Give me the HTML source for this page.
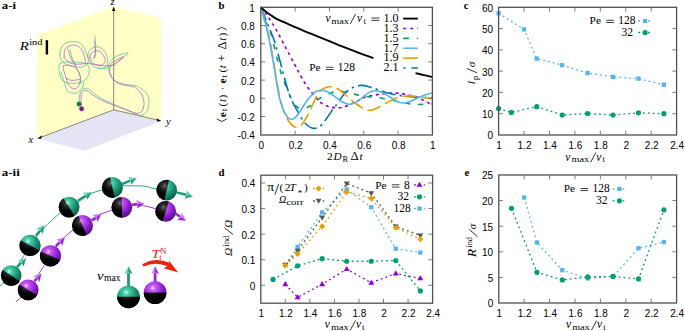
<!DOCTYPE html>
<html><head><meta charset="utf-8"><style>html,body{margin:0;padding:0;background:#fff;}svg{display:block;}</style></head><body>
<svg width="685" height="331" viewBox="0 0 685 331">
<rect width="685" height="331" fill="#fff"/>
<g fill="none" stroke-linejoin="round">
<path d="M260.8,7.3 C261.5,8.18 263.6,10.72 265,12.6 C266.4,14.48 267.35,15.78 269.2,18.6 C271.05,21.42 273.43,24.82 276.1,29.5 C278.77,34.18 282.17,40.97 285.2,46.7 C288.23,52.43 291.77,59.13 294.3,63.9 C296.83,68.67 298.45,71.78 300.4,75.3 C302.35,78.82 304.03,82.03 306,85 C307.97,87.97 310.37,90.8 312.2,93.1 C314.03,95.4 315.48,97.15 317,98.8 C318.52,100.45 319.63,101.8 321.3,103 C322.97,104.2 325.38,105.3 327,106 C328.62,106.7 329.52,106.92 331,107.2 C332.48,107.48 334.07,107.65 335.9,107.7 C337.73,107.75 339.63,108.03 342,107.5 C344.37,106.97 347.43,105.67 350.1,104.5 C352.77,103.33 355.35,101.75 358,100.5 C360.65,99.25 362.78,97.98 366,97 C369.22,96.02 373.97,95.18 377.3,94.6 C380.63,94.02 382.98,93.75 386,93.5 C389.02,93.25 392.57,93.03 395.4,93.1 C398.23,93.17 400.48,93.52 403,93.9 C405.52,94.28 408.17,94.8 410.5,95.4 C412.83,96 414.92,96.73 417,97.5 C419.08,98.27 421.05,99.08 423,100 C424.95,100.92 427.13,102.2 428.7,103 C430.27,103.8 431.78,104.5 432.4,104.8" stroke="#9400D3" stroke-width="1.6" stroke-dasharray="3 3.6"/>
<path d="M260.8,7.3 C261.5,9.42 263.35,15.77 265,20 C266.65,24.23 269.13,28.15 270.7,32.7 C272.27,37.25 273.27,42.75 274.4,47.3 C275.53,51.85 276.45,55.92 277.5,60 C278.55,64.08 279.7,68.47 280.7,71.8 C281.7,75.13 282.45,77.13 283.5,80 C284.55,82.87 285.75,86 287,89 C288.25,92 289.67,95.33 291,98 C292.33,100.67 293.67,103.28 295,105 C296.33,106.72 297.67,107.67 299,108.3 C300.33,108.93 301.4,109.05 303,108.8 C304.6,108.55 306.93,107.67 308.6,106.8 C310.27,105.93 311.63,104.67 313,103.6 C314.37,102.53 315.3,101.5 316.8,100.4 C318.3,99.3 320.03,98.05 322,97 C323.97,95.95 326.6,94.93 328.6,94.1 C330.6,93.27 332.18,92.47 334,92 C335.82,91.53 337.67,91.3 339.5,91.3 C341.33,91.3 342.92,91.62 345,92 C347.08,92.38 349.5,93.03 352,93.6 C354.5,94.17 357.33,94.9 360,95.4 C362.67,95.9 364.87,96.22 368,96.6 C371.13,96.98 375.13,97.18 378.8,97.7 C382.47,98.22 386.47,98.98 390,99.7 C393.53,100.42 396.67,101.3 400,102 C403.33,102.7 407,103.48 410,103.9 C413,104.32 415.5,104.43 418,104.5 C420.5,104.57 422.6,104.4 425,104.3 C427.4,104.2 431.17,103.97 432.4,103.9" stroke="#009E73" stroke-width="1.6" stroke-dasharray="5.2 7.8"/>
<path d="M260.8,7.3 C261.67,9.42 264.38,16.05 266,20 C267.62,23.95 269.1,27.5 270.5,31 C271.9,34.5 273.23,37.5 274.4,41 C275.57,44.5 276.45,48.23 277.5,52 C278.55,55.77 279.62,59.6 280.7,63.6 C281.78,67.6 282.95,72.1 284,76 C285.05,79.9 285.92,83.42 287,87 C288.08,90.58 289.25,94.33 290.5,97.5 C291.75,100.67 293.15,103.42 294.5,106 C295.85,108.58 297.18,110.58 298.6,113 C300.02,115.42 301.52,118.42 303,120.5 C304.48,122.58 305.92,124.22 307.5,125.5 C309.08,126.78 310.83,127.82 312.5,128.2 C314.17,128.58 315.92,128.42 317.5,127.8 C319.08,127.18 320.42,126.13 322,124.5 C323.58,122.87 325.33,120.33 327,118 C328.67,115.67 330.22,112.97 332,110.5 C333.78,108.03 335.87,105.7 337.7,103.2 C339.53,100.7 341.28,97.62 343,95.5 C344.72,93.38 346.33,91.83 348,90.5 C349.67,89.17 351.33,88.28 353,87.5 C354.67,86.72 356.47,86.15 358,85.8 C359.53,85.45 360.53,85.28 362.2,85.4 C363.87,85.52 366.2,86.07 368,86.5 C369.8,86.93 371.2,87.42 373,88 C374.8,88.58 376.63,89.25 378.8,90 C380.97,90.75 383.63,91.8 386,92.5 C388.37,93.2 390.83,93.73 393,94.2 C395.17,94.67 397.08,94.98 399,95.3 C400.92,95.62 402.33,95.85 404.5,96.1 C406.67,96.35 409.42,96.58 412,96.8 C414.58,97.02 416.6,97.25 420,97.4 C423.4,97.55 430.33,97.65 432.4,97.7" stroke="#0072B2" stroke-width="1.6" stroke-dasharray="14 4.2 2.4 4.2"/>
<path d="M260.8,7.3 C261.33,9.25 262.65,14.3 264,19 C265.35,23.7 267.4,29 268.9,35.5 C270.4,42 271.68,50.42 273,58 C274.32,65.58 275.63,74.33 276.8,81 C277.97,87.67 278.8,92.83 280,98 C281.2,103.17 282.5,108.08 284,112 C285.5,115.92 287.5,119.17 289,121.5 C290.5,123.83 291.7,125.05 293,126 C294.3,126.95 295.47,127.28 296.8,127.2 C298.13,127.12 299.63,126.7 301,125.5 C302.37,124.3 303.73,121.98 305,120 C306.27,118.02 307.27,116.27 308.6,113.6 C309.93,110.93 311.48,107.18 313,104 C314.52,100.82 316.2,96.92 317.7,94.5 C319.2,92.08 320.03,90.78 322,89.5 C323.97,88.22 327,86.97 329.5,86.8 C332,86.63 335.08,87.77 337,88.5 C338.92,89.23 339.2,89.8 341,91.2 C342.8,92.6 345.47,94.93 347.8,96.9 C350.13,98.87 352.47,101.12 355,103 C357.53,104.88 360.55,106.97 363,108.2 C365.45,109.43 367.53,110.35 369.7,110.4 C371.87,110.45 373.78,109.43 376,108.5 C378.22,107.57 380.77,105.98 383,104.8 C385.23,103.62 387.07,102.58 389.4,101.4 C391.73,100.22 394.57,98.57 397,97.7 C399.43,96.83 401.83,96.5 404,96.2 C406.17,95.9 408,95.88 410,95.9 C412,95.92 413.67,96.03 416,96.3 C418.33,96.57 421.27,97.12 424,97.5 C426.73,97.88 431,98.42 432.4,98.6" stroke="#E69F00" stroke-width="1.6" stroke-dasharray="14 5"/>
<path d="M260.8,7.3 C261.25,8.75 262.45,12.22 263.5,16 C264.55,19.78 265.77,24 267.1,30 C268.43,36 270.03,44 271.5,52 C272.97,60 274.65,70.67 275.9,78 C277.15,85.33 277.82,90.83 279,96 C280.18,101.17 281.67,105.58 283,109 C284.33,112.42 285.7,114.8 287,116.5 C288.3,118.2 289.47,118.98 290.8,119.2 C292.13,119.42 293.63,118.83 295,117.8 C296.37,116.77 297.65,114.85 299,113 C300.35,111.15 301.68,108.87 303.1,106.7 C304.52,104.53 305.98,102.02 307.5,100 C309.02,97.98 310.7,96.07 312.2,94.6 C313.7,93.13 314.98,91.93 316.5,91.2 C318.02,90.47 319.55,90.13 321.3,90.2 C323.05,90.27 324.88,90.67 327,91.6 C329.12,92.53 331.67,94.18 334,95.8 C336.33,97.42 338.57,99.9 341,101.3 C343.43,102.7 346.27,103.98 348.6,104.2 C350.93,104.42 352.77,103.67 355,102.6 C357.23,101.53 359.75,99.47 362,97.8 C364.25,96.13 366.33,93.78 368.5,92.6 C370.67,91.42 372.75,90.75 375,90.7 C377.25,90.65 379.5,91.25 382,92.3 C384.5,93.35 387.5,95.45 390,97 C392.5,98.55 394.83,100.6 397,101.6 C399.17,102.6 400.83,103.03 403,103 C405.17,102.97 407.5,102.27 410,101.4 C412.5,100.53 415.5,98.87 418,97.8 C420.5,96.73 422.6,95.83 425,95 C427.4,94.17 431.17,93.17 432.4,92.8" stroke="#56B4E9" stroke-width="1.6"/>
<path d="M260.8,7.3 C261.67,8.05 264.13,10.37 266,11.8 C267.87,13.23 270.32,14.77 272,15.9 C273.68,17.03 274.43,17.7 276.1,18.6 C277.77,19.5 279.68,20.25 282,21.3 C284.32,22.35 287.95,23.98 290,24.9 C292.05,25.82 292.63,26.08 294.3,26.8 C295.97,27.52 297.38,28.1 300,29.2 C302.62,30.3 307,32.15 310,33.4 C313,34.65 314.67,35.37 318,36.7 C321.33,38.03 325.88,39.75 330,41.4 C334.12,43.05 338.53,44.95 342.7,46.6 C346.87,48.25 351.28,49.87 355,51.3 C358.72,52.73 361.93,54.07 365,55.2 C368.07,56.33 372,57.62 373.4,58.1" stroke="#000" stroke-width="1.9"/>
<path d="M415.6,73.1 C417,73.45 421.2,74.53 424,75.2 C426.8,75.87 431,76.78 432.4,77.1" stroke="#000" stroke-width="1.9"/>
</g>
<rect x="260.8" y="7.3" width="171.6" height="127.7" fill="none" stroke="#505050" stroke-width="1.3"/>
<line x1="295.12" y1="135" x2="295.12" y2="130.7" stroke="#666" stroke-width="0.85"/>
<line x1="295.12" y1="7.3" x2="295.12" y2="11.6" stroke="#666" stroke-width="0.85"/>
<line x1="329.44" y1="135" x2="329.44" y2="130.7" stroke="#666" stroke-width="0.85"/>
<line x1="329.44" y1="7.3" x2="329.44" y2="11.6" stroke="#666" stroke-width="0.85"/>
<line x1="363.76" y1="135" x2="363.76" y2="130.7" stroke="#666" stroke-width="0.85"/>
<line x1="363.76" y1="7.3" x2="363.76" y2="11.6" stroke="#666" stroke-width="0.85"/>
<line x1="398.08" y1="135" x2="398.08" y2="130.7" stroke="#666" stroke-width="0.85"/>
<line x1="398.08" y1="7.3" x2="398.08" y2="11.6" stroke="#666" stroke-width="0.85"/>
<line x1="260.8" y1="25.5" x2="265.1" y2="25.5" stroke="#666" stroke-width="0.85"/>
<line x1="432.4" y1="25.5" x2="428.1" y2="25.5" stroke="#666" stroke-width="0.85"/>
<line x1="260.8" y1="43.7" x2="265.1" y2="43.7" stroke="#666" stroke-width="0.85"/>
<line x1="432.4" y1="43.7" x2="428.1" y2="43.7" stroke="#666" stroke-width="0.85"/>
<line x1="260.8" y1="61.9" x2="265.1" y2="61.9" stroke="#666" stroke-width="0.85"/>
<line x1="432.4" y1="61.9" x2="428.1" y2="61.9" stroke="#666" stroke-width="0.85"/>
<line x1="260.8" y1="80.1" x2="265.1" y2="80.1" stroke="#666" stroke-width="0.85"/>
<line x1="432.4" y1="80.1" x2="428.1" y2="80.1" stroke="#666" stroke-width="0.85"/>
<line x1="260.8" y1="98.3" x2="265.1" y2="98.3" stroke="#666" stroke-width="0.85"/>
<line x1="432.4" y1="98.3" x2="428.1" y2="98.3" stroke="#666" stroke-width="0.85"/>
<line x1="260.8" y1="116.5" x2="265.1" y2="116.5" stroke="#666" stroke-width="0.85"/>
<line x1="432.4" y1="116.5" x2="428.1" y2="116.5" stroke="#666" stroke-width="0.85"/>
<text x="254.8" y="11.7" font-family='"Liberation Sans", sans-serif' font-size="10" text-anchor="end">1</text>
<text x="254.8" y="29.9" font-family='"Liberation Sans", sans-serif' font-size="10" text-anchor="end">0.8</text>
<text x="254.8" y="48.1" font-family='"Liberation Sans", sans-serif' font-size="10" text-anchor="end">0.6</text>
<text x="254.8" y="66.3" font-family='"Liberation Sans", sans-serif' font-size="10" text-anchor="end">0.4</text>
<text x="254.8" y="84.5" font-family='"Liberation Sans", sans-serif' font-size="10" text-anchor="end">0.2</text>
<text x="254.8" y="102.7" font-family='"Liberation Sans", sans-serif' font-size="10" text-anchor="end">0</text>
<text x="254.8" y="120.9" font-family='"Liberation Sans", sans-serif' font-size="10" text-anchor="end">-0.2</text>
<text x="254.8" y="139.1" font-family='"Liberation Sans", sans-serif' font-size="10" text-anchor="end">-0.4</text>
<text x="261.3" y="149.2" font-family='"Liberation Sans", sans-serif' font-size="10" text-anchor="middle">0</text>
<text x="295.62" y="149.2" font-family='"Liberation Sans", sans-serif' font-size="10" text-anchor="middle">0.2</text>
<text x="329.94" y="149.2" font-family='"Liberation Sans", sans-serif' font-size="10" text-anchor="middle">0.4</text>
<text x="364.26" y="149.2" font-family='"Liberation Sans", sans-serif' font-size="10" text-anchor="middle">0.6</text>
<text x="398.58" y="149.2" font-family='"Liberation Sans", sans-serif' font-size="10" text-anchor="middle">0.8</text>
<text x="432.9" y="149.2" font-family='"Liberation Sans", sans-serif' font-size="10" text-anchor="middle">1</text>
<text x="325.5" y="21.9" font-family='"Liberation Serif", serif' font-size="11.5" font-style="italic">v</text>
<text x="331.2" y="23.5" font-family='"Liberation Serif", serif' font-size="8.8" textLength="17.6" lengthAdjust="spacingAndGlyphs">max</text>
<line x1="355.6" y1="14" x2="350.3" y2="23.8" stroke="#000" stroke-width="0.8"/>
<text x="356.9" y="21.9" font-family='"Liberation Serif", serif' font-size="11.5" font-style="italic">v</text>
<text x="363.4" y="23.5" font-family='"Liberation Serif", serif' font-size="8.6">t</text>
<rect x="371.4" y="17.65" width="8" height="0.75" fill="#000"/>
<rect x="371.4" y="19.9" width="8" height="0.75" fill="#000"/>
<text x="383.4" y="21.9" font-family='"Liberation Serif", serif' font-size="11.5" textLength="15.2" lengthAdjust="spacingAndGlyphs">1.0</text>
<text x="383.4" y="31.78" font-family='"Liberation Serif", serif' font-size="11.5" textLength="15.2" lengthAdjust="spacingAndGlyphs">1.3</text>
<text x="383.4" y="41.66" font-family='"Liberation Serif", serif' font-size="11.5" textLength="15.2" lengthAdjust="spacingAndGlyphs">1.5</text>
<text x="383.4" y="51.54" font-family='"Liberation Serif", serif' font-size="11.5" textLength="15.2" lengthAdjust="spacingAndGlyphs">1.7</text>
<text x="383.4" y="61.42" font-family='"Liberation Serif", serif' font-size="11.5" textLength="15.2" lengthAdjust="spacingAndGlyphs">1.9</text>
<text x="383.4" y="71.3" font-family='"Liberation Serif", serif' font-size="11.5" textLength="15.2" lengthAdjust="spacingAndGlyphs">2.1</text>
<line x1="403.2" y1="18.6" x2="417.8" y2="18.6" stroke="#000" stroke-width="1.9"/>
<line x1="403.2" y1="28.48" x2="417.8" y2="28.48" stroke="#9400D3" stroke-width="1.6" stroke-dasharray="3 4"/>
<line x1="403.2" y1="38.36" x2="417.8" y2="38.36" stroke="#009E73" stroke-width="1.6" stroke-dasharray="5.6 7.9"/>
<line x1="403.2" y1="48.24" x2="417.8" y2="48.24" stroke="#56B4E9" stroke-width="1.6"/>
<line x1="403.2" y1="58.12" x2="417.8" y2="58.12" stroke="#E69F00" stroke-width="1.6"/>
<line x1="403.2" y1="68" x2="417.8" y2="68" stroke="#0072B2" stroke-width="1.6" stroke-dasharray="2.4 5.8 14"/>
<text x="309.2" y="71.1" font-family='"Liberation Serif", serif' font-size="11.3">Pe</text>
<rect x="325.8" y="66.85" width="7.6" height="0.75" fill="#000"/>
<rect x="325.8" y="69.1" width="7.6" height="0.75" fill="#000"/>
<text x="337.8" y="71.1" font-family='"Liberation Serif", serif' font-size="11.5">128</text>
<text x="326.9" y="159.9" font-family='"Liberation Serif", serif' font-size="11.3">2</text>
<text x="333.4" y="159.9" font-family='"Liberation Serif", serif' font-size="11.3" font-style="italic">D</text>
<text x="342.6" y="161.5" font-family='"Liberation Serif", serif' font-size="8.3">R</text>
<text x="350.5" y="159.9" font-family='"Liberation Serif", serif' font-size="12.4" textLength="8.2" lengthAdjust="spacingAndGlyphs">Δ</text>
<text x="359.6" y="159.9" font-family='"Liberation Serif", serif' font-size="11.3" font-style="italic">t</text>
<g transform="translate(225.6,124) rotate(-90)">
<text x="6.7" y="0" font-family='"Liberation Serif", serif' font-size="11.3" font-weight="bold">e</text>
<text x="12.9" y="1.6" font-family='"Liberation Serif", serif' font-size="8.3">t</text>
<text x="17.6" y="0" font-family='"Liberation Serif", serif' font-size="11.3">(</text>
<text x="21.9" y="0" font-family='"Liberation Serif", serif' font-size="11.3" font-style="italic">t</text>
<text x="25.6" y="0" font-family='"Liberation Serif", serif' font-size="11.3">)</text>
<text x="33.5" y="0" font-family='"Liberation Serif", serif' font-size="11.3">·</text>
<text x="40.4" y="0" font-family='"Liberation Serif", serif' font-size="11.3" font-weight="bold">e</text>
<text x="46.4" y="1.6" font-family='"Liberation Serif", serif' font-size="8.3">t</text>
<text x="51.4" y="0" font-family='"Liberation Serif", serif' font-size="11.3">(</text>
<text x="55.7" y="0" font-family='"Liberation Serif", serif' font-size="11.3" font-style="italic">t</text>
<text x="62.6" y="0" font-family='"Liberation Serif", serif' font-size="12">+</text>
<text x="74.4" y="0" font-family='"Liberation Serif", serif' font-size="12.4" textLength="8.0" lengthAdjust="spacingAndGlyphs">Δ</text>
<text x="83.2" y="0" font-family='"Liberation Serif", serif' font-size="11.3" font-style="italic">t</text>
<text x="87.4" y="0" font-family='"Liberation Serif", serif' font-size="11.3">)</text>
</g>
<path d="M216.8,119.0 L221.8,121.5 L226.8,119.0" fill="none" stroke="#000" stroke-width="0.8"/>
<path d="M216.8,29.8 L221.8,27.3 L226.8,29.8" fill="none" stroke="#000" stroke-width="0.8"/>
<path d="M498.6,13.26 L524.03,29.43 L536.74,58.59 L562.17,65.19 L587.6,73.07 L613.03,76.9 L638.46,78.6 L663.89,84.77" fill="none" stroke="#56B4E9" stroke-width="1.3" stroke-dasharray="1.9 3"/>
<path d="M498.6,108.61 L511.31,112.44 L536.74,106.69 L562.17,114.99 L587.6,113.5 L613.03,114.99 L638.46,112.87 L663.89,113.72" fill="none" stroke="#009E73" stroke-width="1.3" stroke-dasharray="1.9 3"/>
<rect x="496.45" y="11.11" width="4.3" height="4.3" fill="#56B4E9"/>
<rect x="521.88" y="27.28" width="4.3" height="4.3" fill="#56B4E9"/>
<rect x="534.59" y="56.44" width="4.3" height="4.3" fill="#56B4E9"/>
<rect x="560.02" y="63.04" width="4.3" height="4.3" fill="#56B4E9"/>
<rect x="585.45" y="70.92" width="4.3" height="4.3" fill="#56B4E9"/>
<rect x="610.88" y="74.75" width="4.3" height="4.3" fill="#56B4E9"/>
<rect x="636.31" y="76.45" width="4.3" height="4.3" fill="#56B4E9"/>
<rect x="661.74" y="82.62" width="4.3" height="4.3" fill="#56B4E9"/>
<circle cx="498.6" cy="108.61" r="2.6" fill="#009E73"/>
<circle cx="511.31" cy="112.44" r="2.6" fill="#009E73"/>
<circle cx="536.74" cy="106.69" r="2.6" fill="#009E73"/>
<circle cx="562.17" cy="114.99" r="2.6" fill="#009E73"/>
<circle cx="587.6" cy="113.5" r="2.6" fill="#009E73"/>
<circle cx="613.03" cy="114.99" r="2.6" fill="#009E73"/>
<circle cx="638.46" cy="112.87" r="2.6" fill="#009E73"/>
<circle cx="663.89" cy="113.72" r="2.6" fill="#009E73"/>
<rect x="498.6" y="7.3" width="178" height="127.7" fill="none" stroke="#505050" stroke-width="1.3"/>
<line x1="524.03" y1="135" x2="524.03" y2="130.7" stroke="#666" stroke-width="0.85"/>
<line x1="524.03" y1="7.3" x2="524.03" y2="11.6" stroke="#666" stroke-width="0.85"/>
<line x1="549.46" y1="135" x2="549.46" y2="130.7" stroke="#666" stroke-width="0.85"/>
<line x1="549.46" y1="7.3" x2="549.46" y2="11.6" stroke="#666" stroke-width="0.85"/>
<line x1="574.89" y1="135" x2="574.89" y2="130.7" stroke="#666" stroke-width="0.85"/>
<line x1="574.89" y1="7.3" x2="574.89" y2="11.6" stroke="#666" stroke-width="0.85"/>
<line x1="600.31" y1="135" x2="600.31" y2="130.7" stroke="#666" stroke-width="0.85"/>
<line x1="600.31" y1="7.3" x2="600.31" y2="11.6" stroke="#666" stroke-width="0.85"/>
<line x1="625.74" y1="135" x2="625.74" y2="130.7" stroke="#666" stroke-width="0.85"/>
<line x1="625.74" y1="7.3" x2="625.74" y2="11.6" stroke="#666" stroke-width="0.85"/>
<line x1="651.17" y1="135" x2="651.17" y2="130.7" stroke="#666" stroke-width="0.85"/>
<line x1="651.17" y1="7.3" x2="651.17" y2="11.6" stroke="#666" stroke-width="0.85"/>
<line x1="498.6" y1="113.72" x2="502.9" y2="113.72" stroke="#666" stroke-width="0.85"/>
<line x1="676.6" y1="113.72" x2="672.3" y2="113.72" stroke="#666" stroke-width="0.85"/>
<line x1="498.6" y1="92.43" x2="502.9" y2="92.43" stroke="#666" stroke-width="0.85"/>
<line x1="676.6" y1="92.43" x2="672.3" y2="92.43" stroke="#666" stroke-width="0.85"/>
<line x1="498.6" y1="71.15" x2="502.9" y2="71.15" stroke="#666" stroke-width="0.85"/>
<line x1="676.6" y1="71.15" x2="672.3" y2="71.15" stroke="#666" stroke-width="0.85"/>
<line x1="498.6" y1="49.87" x2="502.9" y2="49.87" stroke="#666" stroke-width="0.85"/>
<line x1="676.6" y1="49.87" x2="672.3" y2="49.87" stroke="#666" stroke-width="0.85"/>
<line x1="498.6" y1="28.58" x2="502.9" y2="28.58" stroke="#666" stroke-width="0.85"/>
<line x1="676.6" y1="28.58" x2="672.3" y2="28.58" stroke="#666" stroke-width="0.85"/>
<text x="493" y="139.4" font-family='"Liberation Sans", sans-serif' font-size="10" text-anchor="end">0</text>
<text x="493" y="118.12" font-family='"Liberation Sans", sans-serif' font-size="10" text-anchor="end">10</text>
<text x="493" y="96.83" font-family='"Liberation Sans", sans-serif' font-size="10" text-anchor="end">20</text>
<text x="493" y="75.55" font-family='"Liberation Sans", sans-serif' font-size="10" text-anchor="end">30</text>
<text x="493" y="54.27" font-family='"Liberation Sans", sans-serif' font-size="10" text-anchor="end">40</text>
<text x="493" y="32.98" font-family='"Liberation Sans", sans-serif' font-size="10" text-anchor="end">50</text>
<text x="493" y="11.7" font-family='"Liberation Sans", sans-serif' font-size="10" text-anchor="end">60</text>
<text x="499.1" y="149.2" font-family='"Liberation Sans", sans-serif' font-size="10" text-anchor="middle">1</text>
<text x="524.53" y="149.2" font-family='"Liberation Sans", sans-serif' font-size="10" text-anchor="middle">1.2</text>
<text x="549.96" y="149.2" font-family='"Liberation Sans", sans-serif' font-size="10" text-anchor="middle">1.4</text>
<text x="575.39" y="149.2" font-family='"Liberation Sans", sans-serif' font-size="10" text-anchor="middle">1.6</text>
<text x="600.81" y="149.2" font-family='"Liberation Sans", sans-serif' font-size="10" text-anchor="middle">1.8</text>
<text x="626.24" y="149.2" font-family='"Liberation Sans", sans-serif' font-size="10" text-anchor="middle">2</text>
<text x="651.67" y="149.2" font-family='"Liberation Sans", sans-serif' font-size="10" text-anchor="middle">2.2</text>
<text x="677.1" y="149.2" font-family='"Liberation Sans", sans-serif' font-size="10" text-anchor="middle">2.4</text>
<text x="589.6" y="24.1" font-family='"Liberation Serif", serif' font-size="11.3">Pe</text>
<rect x="606.2" y="19.85" width="7.6" height="0.75" fill="#000"/>
<rect x="606.2" y="22.1" width="7.6" height="0.75" fill="#000"/>
<text x="618.2" y="24.1" font-family='"Liberation Serif", serif' font-size="11.5">128</text>
<text x="621.6" y="36" font-family='"Liberation Serif", serif' font-size="11.5">32</text>
<line x1="638.2" y1="21" x2="651" y2="21" stroke="#56B4E9" stroke-width="1.3" stroke-dasharray="1.9 3"/>
<rect x="642.95" y="18.85" width="4.3" height="4.3" fill="#56B4E9"/>
<line x1="638.2" y1="32.5" x2="651" y2="32.5" stroke="#009E73" stroke-width="1.3" stroke-dasharray="1.9 3"/>
<circle cx="645.1" cy="32.5" r="2.6" fill="#009E73"/>
<text x="565.2" y="160.5" font-family='"Liberation Serif", serif' font-size="11.5" font-style="italic">v</text>
<text x="571.5" y="162.1" font-family='"Liberation Serif", serif' font-size="8.8" textLength="17.6" lengthAdjust="spacingAndGlyphs">max</text>
<line x1="595.9" y1="152.6" x2="590.6" y2="162.4" stroke="#000" stroke-width="0.8"/>
<text x="596.3" y="160.5" font-family='"Liberation Serif", serif' font-size="11.5" font-style="italic">v</text>
<text x="602.5" y="162.1" font-family='"Liberation Serif", serif' font-size="8.6">t</text>
<g transform="translate(475.2,84.5) rotate(-90)">
<text x="0.3" y="0" font-family='"Liberation Serif", serif' font-size="11.3" font-style="italic">l</text>
<text x="4.6" y="2.4" font-family='"Liberation Serif", serif' font-size="8.3">p</text>
</g>
<line x1="466.9" y1="68.5" x2="477" y2="72.8" stroke="#000" stroke-width="0.8"/>
<g transform="translate(475.2,84.5) rotate(-90)">
<text x="17.3" y="0" font-family='"Liberation Serif", serif' font-size="11.3" font-style="italic">σ</text>
</g>
<path d="M285.34,284.28 L297.61,297.32 L322.16,284.28 L346.7,269.18 L371.24,282.74 L395.79,273.53 L420.33,278.39" fill="none" stroke="#9400D3" stroke-width="1.3" stroke-dasharray="1.9 3"/>
<path d="M273.07,279.42 L297.61,265.86 L322.16,258.7 L346.7,261.25 L371.24,261.25 L395.79,260.49 L420.33,290.93" fill="none" stroke="#009E73" stroke-width="1.3" stroke-dasharray="1.9 3"/>
<path d="M285.34,264.84 L297.61,246.93 L322.16,212.4 L346.7,189.38 L371.24,207.28 L395.79,248.72 L420.33,252.56" fill="none" stroke="#56B4E9" stroke-width="1.3" stroke-dasharray="1.9 3"/>
<path d="M285.34,264.58 L297.61,250.77 L322.16,217.51 L346.7,183.49 L371.24,193.21 L395.79,226.47 L420.33,235.42" fill="none" stroke="#555555" stroke-width="1.3" stroke-dasharray="1.9 3"/>
<path d="M285.34,265.6 L297.61,253.84 L322.16,226.47 L346.7,191.93 L371.24,198.33 L395.79,227.75 L420.33,239.26" fill="none" stroke="#E69F00" stroke-width="1.3" stroke-dasharray="1.9 3"/>
<path d="M285.34,281.11 L288.34,286.21 L282.34,286.21Z" fill="#9400D3"/>
<path d="M297.61,294.16 L300.61,299.26 L294.61,299.26Z" fill="#9400D3"/>
<path d="M322.16,281.11 L325.16,286.21 L319.16,286.21Z" fill="#9400D3"/>
<path d="M346.7,266.02 L349.7,271.12 L343.7,271.12Z" fill="#9400D3"/>
<path d="M371.24,279.58 L374.24,284.68 L368.24,284.68Z" fill="#9400D3"/>
<path d="M395.79,270.37 L398.79,275.47 L392.79,275.47Z" fill="#9400D3"/>
<path d="M420.33,275.23 L423.33,280.33 L417.33,280.33Z" fill="#9400D3"/>
<circle cx="273.07" cy="279.42" r="2.6" fill="#009E73"/>
<circle cx="297.61" cy="265.86" r="2.6" fill="#009E73"/>
<circle cx="322.16" cy="258.7" r="2.6" fill="#009E73"/>
<circle cx="346.7" cy="261.25" r="2.6" fill="#009E73"/>
<circle cx="371.24" cy="261.25" r="2.6" fill="#009E73"/>
<circle cx="395.79" cy="260.49" r="2.6" fill="#009E73"/>
<circle cx="420.33" cy="290.93" r="2.6" fill="#009E73"/>
<rect x="283.19" y="262.69" width="4.3" height="4.3" fill="#56B4E9"/>
<rect x="295.46" y="244.78" width="4.3" height="4.3" fill="#56B4E9"/>
<rect x="320.01" y="210.25" width="4.3" height="4.3" fill="#56B4E9"/>
<rect x="344.55" y="187.22" width="4.3" height="4.3" fill="#56B4E9"/>
<rect x="369.09" y="205.13" width="4.3" height="4.3" fill="#56B4E9"/>
<rect x="393.64" y="246.57" width="4.3" height="4.3" fill="#56B4E9"/>
<rect x="418.18" y="250.41" width="4.3" height="4.3" fill="#56B4E9"/>
<path d="M285.34,267.74 L288.34,262.64 L282.34,262.64Z" fill="#555555"/>
<path d="M297.61,253.93 L300.61,248.83 L294.61,248.83Z" fill="#555555"/>
<path d="M322.16,220.68 L325.16,215.58 L319.16,215.58Z" fill="#555555"/>
<path d="M346.7,186.65 L349.7,181.55 L343.7,181.55Z" fill="#555555"/>
<path d="M371.24,196.37 L374.24,191.27 L368.24,191.27Z" fill="#555555"/>
<path d="M395.79,229.63 L398.79,224.53 L392.79,224.53Z" fill="#555555"/>
<path d="M420.33,238.58 L423.33,233.48 L417.33,233.48Z" fill="#555555"/>
<path d="M285.34,262.5 L288.44,265.6 L285.34,268.7 L282.24,265.6Z" fill="#E69F00"/>
<path d="M297.61,250.74 L300.71,253.84 L297.61,256.94 L294.51,253.84Z" fill="#E69F00"/>
<path d="M322.16,223.37 L325.26,226.47 L322.16,229.57 L319.06,226.47Z" fill="#E69F00"/>
<path d="M346.7,188.83 L349.8,191.93 L346.7,195.03 L343.6,191.93Z" fill="#E69F00"/>
<path d="M371.24,195.23 L374.34,198.33 L371.24,201.43 L368.14,198.33Z" fill="#E69F00"/>
<path d="M395.79,224.65 L398.89,227.75 L395.79,230.84 L392.69,227.75Z" fill="#E69F00"/>
<path d="M420.33,236.16 L423.43,239.26 L420.33,242.36 L417.23,239.26Z" fill="#E69F00"/>
<rect x="260.8" y="175.2" width="171.8" height="128" fill="none" stroke="#505050" stroke-width="1.3"/>
<line x1="285.34" y1="303.2" x2="285.34" y2="298.9" stroke="#666" stroke-width="0.85"/>
<line x1="285.34" y1="175.2" x2="285.34" y2="179.5" stroke="#666" stroke-width="0.85"/>
<line x1="309.89" y1="303.2" x2="309.89" y2="298.9" stroke="#666" stroke-width="0.85"/>
<line x1="309.89" y1="175.2" x2="309.89" y2="179.5" stroke="#666" stroke-width="0.85"/>
<line x1="334.43" y1="303.2" x2="334.43" y2="298.9" stroke="#666" stroke-width="0.85"/>
<line x1="334.43" y1="175.2" x2="334.43" y2="179.5" stroke="#666" stroke-width="0.85"/>
<line x1="358.97" y1="303.2" x2="358.97" y2="298.9" stroke="#666" stroke-width="0.85"/>
<line x1="358.97" y1="175.2" x2="358.97" y2="179.5" stroke="#666" stroke-width="0.85"/>
<line x1="383.51" y1="303.2" x2="383.51" y2="298.9" stroke="#666" stroke-width="0.85"/>
<line x1="383.51" y1="175.2" x2="383.51" y2="179.5" stroke="#666" stroke-width="0.85"/>
<line x1="408.06" y1="303.2" x2="408.06" y2="298.9" stroke="#666" stroke-width="0.85"/>
<line x1="408.06" y1="175.2" x2="408.06" y2="179.5" stroke="#666" stroke-width="0.85"/>
<line x1="260.8" y1="285.3" x2="265.1" y2="285.3" stroke="#666" stroke-width="0.85"/>
<line x1="432.6" y1="285.3" x2="428.3" y2="285.3" stroke="#666" stroke-width="0.85"/>
<line x1="260.8" y1="259.72" x2="265.1" y2="259.72" stroke="#666" stroke-width="0.85"/>
<line x1="432.6" y1="259.72" x2="428.3" y2="259.72" stroke="#666" stroke-width="0.85"/>
<line x1="260.8" y1="234.14" x2="265.1" y2="234.14" stroke="#666" stroke-width="0.85"/>
<line x1="432.6" y1="234.14" x2="428.3" y2="234.14" stroke="#666" stroke-width="0.85"/>
<line x1="260.8" y1="208.56" x2="265.1" y2="208.56" stroke="#666" stroke-width="0.85"/>
<line x1="432.6" y1="208.56" x2="428.3" y2="208.56" stroke="#666" stroke-width="0.85"/>
<line x1="260.8" y1="182.98" x2="265.1" y2="182.98" stroke="#666" stroke-width="0.85"/>
<line x1="432.6" y1="182.98" x2="428.3" y2="182.98" stroke="#666" stroke-width="0.85"/>
<text x="255.3" y="289.7" font-family='"Liberation Sans", sans-serif' font-size="10" text-anchor="end">0</text>
<text x="255.3" y="264.12" font-family='"Liberation Sans", sans-serif' font-size="10" text-anchor="end">0.1</text>
<text x="255.3" y="238.54" font-family='"Liberation Sans", sans-serif' font-size="10" text-anchor="end">0.2</text>
<text x="255.3" y="212.96" font-family='"Liberation Sans", sans-serif' font-size="10" text-anchor="end">0.3</text>
<text x="255.3" y="187.38" font-family='"Liberation Sans", sans-serif' font-size="10" text-anchor="end">0.4</text>
<text x="261.3" y="317.4" font-family='"Liberation Sans", sans-serif' font-size="10" text-anchor="middle">1</text>
<text x="285.84" y="317.4" font-family='"Liberation Sans", sans-serif' font-size="10" text-anchor="middle">1.2</text>
<text x="310.39" y="317.4" font-family='"Liberation Sans", sans-serif' font-size="10" text-anchor="middle">1.4</text>
<text x="334.93" y="317.4" font-family='"Liberation Sans", sans-serif' font-size="10" text-anchor="middle">1.6</text>
<text x="359.47" y="317.4" font-family='"Liberation Sans", sans-serif' font-size="10" text-anchor="middle">1.8</text>
<text x="384.01" y="317.4" font-family='"Liberation Sans", sans-serif' font-size="10" text-anchor="middle">2</text>
<text x="408.56" y="317.4" font-family='"Liberation Sans", sans-serif' font-size="10" text-anchor="middle">2.2</text>
<text x="433.1" y="317.4" font-family='"Liberation Sans", sans-serif' font-size="10" text-anchor="middle">2.4</text>
<text x="324.8" y="328.4" font-family='"Liberation Serif", serif' font-size="11.5" font-style="italic">v</text>
<text x="331.1" y="330" font-family='"Liberation Serif", serif' font-size="8.8" textLength="17.6" lengthAdjust="spacingAndGlyphs">max</text>
<line x1="355.5" y1="320.5" x2="350.2" y2="330.3" stroke="#000" stroke-width="0.8"/>
<text x="355.9" y="328.4" font-family='"Liberation Serif", serif' font-size="11.5" font-style="italic">v</text>
<text x="362.1" y="330" font-family='"Liberation Serif", serif' font-size="8.6">t</text>
<text x="267.2" y="191.4" font-family='"Liberation Serif", serif' font-size="12" textLength="6.8" lengthAdjust="spacingAndGlyphs">π</text>
<line x1="278.8" y1="183.8" x2="274.8" y2="194.8" stroke="#000" stroke-width="0.8"/>
<text x="279.4" y="191.4" font-family='"Liberation Serif", serif' font-size="11.3">(</text>
<text x="284.8" y="191.4" font-family='"Liberation Serif", serif' font-size="11.3">2</text>
<text x="289.6" y="191.4" font-family='"Liberation Serif", serif' font-size="11.3" font-style="italic">T</text>
<text x="297.7" y="196.4" font-family='"Liberation Serif", serif' font-size="9">*</text>
<text x="304" y="191.4" font-family='"Liberation Serif", serif' font-size="11.3">)</text>
<text x="278.9" y="203.3" font-family='"Liberation Serif", serif' font-size="11.3" font-style="italic" textLength="7.2" lengthAdjust="spacingAndGlyphs">Ω</text>
<text x="286.3" y="204.9" font-family='"Liberation Serif", serif' font-size="8.8" textLength="17.3" lengthAdjust="spacingAndGlyphs">corr</text>
<line x1="313" y1="188.5" x2="324.2" y2="188.5" stroke="#E69F00" stroke-width="1.3" stroke-dasharray="1.9 3"/>
<path d="M318.6,185.4 L321.7,188.5 L318.6,191.6 L315.5,188.5Z" fill="#E69F00"/>
<line x1="313" y1="201" x2="324.2" y2="201" stroke="#555555" stroke-width="1.3" stroke-dasharray="1.9 3"/>
<path d="M318.6,203.76 L321.6,198.66 L315.6,198.66Z" fill="#555555"/>
<text x="375.3" y="188.7" font-family='"Liberation Serif", serif' font-size="11.3">Pe</text>
<rect x="391.9" y="184.45" width="7.6" height="0.75" fill="#000"/>
<rect x="391.9" y="186.7" width="7.6" height="0.75" fill="#000"/>
<text x="403.9" y="188.7" font-family='"Liberation Serif", serif' font-size="11.5">8</text>
<text x="397.6" y="200.3" font-family='"Liberation Serif", serif' font-size="11.5">32</text>
<text x="393.4" y="212.3" font-family='"Liberation Serif", serif' font-size="11.5">128</text>
<line x1="414" y1="184.9" x2="425" y2="184.9" stroke="#9400D3" stroke-width="1.3" stroke-dasharray="1.9 3"/>
<path d="M419.5,181.74 L422.5,186.84 L416.5,186.84Z" fill="#9400D3"/>
<line x1="414" y1="196.8" x2="425" y2="196.8" stroke="#009E73" stroke-width="1.3" stroke-dasharray="1.9 3"/>
<circle cx="419.5" cy="196.8" r="2.6" fill="#009E73"/>
<line x1="414" y1="208.5" x2="425" y2="208.5" stroke="#56B4E9" stroke-width="1.3" stroke-dasharray="1.9 3"/>
<rect x="417.35" y="206.35" width="4.3" height="4.3" fill="#56B4E9"/>
<g transform="translate(231.8,258) rotate(-90)">
<text x="2" y="0" font-family='"Liberation Serif", serif' font-size="11.3" font-style="italic" textLength="8.2" lengthAdjust="spacingAndGlyphs">Ω</text>
<text x="11.6" y="-3.3" font-family='"Liberation Serif", serif' font-size="8.3">ind</text>
</g>
<line x1="224.5" y1="227.9" x2="233" y2="234.4" stroke="#000" stroke-width="0.8"/>
<g transform="translate(231.8,258) rotate(-90)">
<text x="30" y="0" font-family='"Liberation Serif", serif' font-size="11.3" font-style="italic" textLength="8.1" lengthAdjust="spacingAndGlyphs">Ω</text>
</g>
<path d="M524.2,197.53 L536.9,242.58 L562.3,270.23 L587.7,278.42 L613.1,276.38 L638.5,248.22 L663.9,242.07" fill="none" stroke="#56B4E9" stroke-width="1.3" stroke-dasharray="1.9 3"/>
<path d="M511.5,208.28 L536.9,272.28 L562.3,279.96 L587.7,276.89 L613.1,276.38 L638.5,278.94 L663.9,209.82" fill="none" stroke="#009E73" stroke-width="1.3" stroke-dasharray="1.9 3"/>
<rect x="522.05" y="195.38" width="4.3" height="4.3" fill="#56B4E9"/>
<rect x="534.75" y="240.43" width="4.3" height="4.3" fill="#56B4E9"/>
<rect x="560.15" y="268.08" width="4.3" height="4.3" fill="#56B4E9"/>
<rect x="585.55" y="276.27" width="4.3" height="4.3" fill="#56B4E9"/>
<rect x="610.95" y="274.23" width="4.3" height="4.3" fill="#56B4E9"/>
<rect x="636.35" y="246.07" width="4.3" height="4.3" fill="#56B4E9"/>
<rect x="661.75" y="239.92" width="4.3" height="4.3" fill="#56B4E9"/>
<circle cx="511.5" cy="208.28" r="2.6" fill="#009E73"/>
<circle cx="536.9" cy="272.28" r="2.6" fill="#009E73"/>
<circle cx="562.3" cy="279.96" r="2.6" fill="#009E73"/>
<circle cx="587.7" cy="276.89" r="2.6" fill="#009E73"/>
<circle cx="613.1" cy="276.38" r="2.6" fill="#009E73"/>
<circle cx="638.5" cy="278.94" r="2.6" fill="#009E73"/>
<circle cx="663.9" cy="209.82" r="2.6" fill="#009E73"/>
<rect x="498.8" y="175" width="177.8" height="128" fill="none" stroke="#505050" stroke-width="1.3"/>
<line x1="524.2" y1="303" x2="524.2" y2="298.7" stroke="#666" stroke-width="0.85"/>
<line x1="524.2" y1="175" x2="524.2" y2="179.3" stroke="#666" stroke-width="0.85"/>
<line x1="549.6" y1="303" x2="549.6" y2="298.7" stroke="#666" stroke-width="0.85"/>
<line x1="549.6" y1="175" x2="549.6" y2="179.3" stroke="#666" stroke-width="0.85"/>
<line x1="575" y1="303" x2="575" y2="298.7" stroke="#666" stroke-width="0.85"/>
<line x1="575" y1="175" x2="575" y2="179.3" stroke="#666" stroke-width="0.85"/>
<line x1="600.4" y1="303" x2="600.4" y2="298.7" stroke="#666" stroke-width="0.85"/>
<line x1="600.4" y1="175" x2="600.4" y2="179.3" stroke="#666" stroke-width="0.85"/>
<line x1="625.8" y1="303" x2="625.8" y2="298.7" stroke="#666" stroke-width="0.85"/>
<line x1="625.8" y1="175" x2="625.8" y2="179.3" stroke="#666" stroke-width="0.85"/>
<line x1="651.2" y1="303" x2="651.2" y2="298.7" stroke="#666" stroke-width="0.85"/>
<line x1="651.2" y1="175" x2="651.2" y2="179.3" stroke="#666" stroke-width="0.85"/>
<line x1="498.8" y1="277.4" x2="503.1" y2="277.4" stroke="#666" stroke-width="0.85"/>
<line x1="676.6" y1="277.4" x2="672.3" y2="277.4" stroke="#666" stroke-width="0.85"/>
<line x1="498.8" y1="251.8" x2="503.1" y2="251.8" stroke="#666" stroke-width="0.85"/>
<line x1="676.6" y1="251.8" x2="672.3" y2="251.8" stroke="#666" stroke-width="0.85"/>
<line x1="498.8" y1="226.2" x2="503.1" y2="226.2" stroke="#666" stroke-width="0.85"/>
<line x1="676.6" y1="226.2" x2="672.3" y2="226.2" stroke="#666" stroke-width="0.85"/>
<line x1="498.8" y1="200.6" x2="503.1" y2="200.6" stroke="#666" stroke-width="0.85"/>
<line x1="676.6" y1="200.6" x2="672.3" y2="200.6" stroke="#666" stroke-width="0.85"/>
<text x="493.2" y="307.4" font-family='"Liberation Sans", sans-serif' font-size="10" text-anchor="end">0</text>
<text x="493.2" y="281.8" font-family='"Liberation Sans", sans-serif' font-size="10" text-anchor="end">5</text>
<text x="493.2" y="256.2" font-family='"Liberation Sans", sans-serif' font-size="10" text-anchor="end">10</text>
<text x="493.2" y="230.6" font-family='"Liberation Sans", sans-serif' font-size="10" text-anchor="end">15</text>
<text x="493.2" y="205" font-family='"Liberation Sans", sans-serif' font-size="10" text-anchor="end">20</text>
<text x="493.2" y="179.4" font-family='"Liberation Sans", sans-serif' font-size="10" text-anchor="end">25</text>
<text x="499.3" y="317.2" font-family='"Liberation Sans", sans-serif' font-size="10" text-anchor="middle">1</text>
<text x="524.7" y="317.2" font-family='"Liberation Sans", sans-serif' font-size="10" text-anchor="middle">1.2</text>
<text x="550.1" y="317.2" font-family='"Liberation Sans", sans-serif' font-size="10" text-anchor="middle">1.4</text>
<text x="575.5" y="317.2" font-family='"Liberation Sans", sans-serif' font-size="10" text-anchor="middle">1.6</text>
<text x="600.9" y="317.2" font-family='"Liberation Sans", sans-serif' font-size="10" text-anchor="middle">1.8</text>
<text x="626.3" y="317.2" font-family='"Liberation Sans", sans-serif' font-size="10" text-anchor="middle">2</text>
<text x="651.7" y="317.2" font-family='"Liberation Sans", sans-serif' font-size="10" text-anchor="middle">2.2</text>
<text x="677.1" y="317.2" font-family='"Liberation Sans", sans-serif' font-size="10" text-anchor="middle">2.4</text>
<text x="566" y="328.4" font-family='"Liberation Serif", serif' font-size="11.5" font-style="italic">v</text>
<text x="572.3" y="330" font-family='"Liberation Serif", serif' font-size="8.8" textLength="17.6" lengthAdjust="spacingAndGlyphs">max</text>
<line x1="596.7" y1="320.5" x2="591.4" y2="330.3" stroke="#000" stroke-width="0.8"/>
<text x="597.1" y="328.4" font-family='"Liberation Serif", serif' font-size="11.5" font-style="italic">v</text>
<text x="603.3" y="330" font-family='"Liberation Serif", serif' font-size="8.6">t</text>
<text x="563.8" y="192.3" font-family='"Liberation Serif", serif' font-size="11.3">Pe</text>
<rect x="580.4" y="188.05" width="7.6" height="0.75" fill="#000"/>
<rect x="580.4" y="190.3" width="7.6" height="0.75" fill="#000"/>
<text x="592.4" y="192.3" font-family='"Liberation Serif", serif' font-size="11.5">128</text>
<text x="596" y="204.1" font-family='"Liberation Serif", serif' font-size="11.5">32</text>
<line x1="612.6" y1="189" x2="625.2" y2="189" stroke="#56B4E9" stroke-width="1.3" stroke-dasharray="1.9 3"/>
<rect x="617.25" y="186.85" width="4.3" height="4.3" fill="#56B4E9"/>
<line x1="612.6" y1="200.8" x2="625.2" y2="200.8" stroke="#009E73" stroke-width="1.3" stroke-dasharray="1.9 3"/>
<circle cx="619.4" cy="200.8" r="2.6" fill="#009E73"/>
<g transform="translate(476.2,257.5) rotate(-90)">
<text x="0.6" y="0" font-family='"Liberation Serif", serif' font-size="11.5" font-style="italic" textLength="8.0" lengthAdjust="spacingAndGlyphs">R</text>
<text x="9.9" y="-3.9" font-family='"Liberation Serif", serif' font-size="8.3">ind</text>
</g>
<line x1="469.2" y1="229.4" x2="477.5" y2="236.6" stroke="#000" stroke-width="0.8"/>
<g transform="translate(476.2,257.5) rotate(-90)">
<text x="28" y="0" font-family='"Liberation Serif", serif' font-size="11.3" font-style="italic">σ</text>
</g>
<text x="1.8" y="8.7" font-family='"Liberation Serif", serif' font-size="10.8" font-weight="bold" textLength="14.2" lengthAdjust="spacingAndGlyphs">a-i</text>
<text x="218.6" y="8.7" font-family='"Liberation Serif", serif' font-size="10.8" font-weight="bold">b</text>
<text x="463.7" y="8.7" font-family='"Liberation Serif", serif' font-size="10.8" font-weight="bold">c</text>
<text x="1.8" y="176.3" font-family='"Liberation Serif", serif' font-size="10.8" font-weight="bold" textLength="18" lengthAdjust="spacingAndGlyphs">a-ii</text>
<text x="218.6" y="176.3" font-family='"Liberation Serif", serif' font-size="10.8" font-weight="bold">d</text>
<text x="464.6" y="176.3" font-family='"Liberation Serif", serif' font-size="10.8" font-weight="bold">e</text>
<path d="M36.9,35.3 L113.7,6.6 L161.6,18.2 L161.6,120.9 L113.7,109.8 L36.9,138.6Z" fill="#FFFFC6"/>
<path d="M36.9,138.6 L113.7,109.8 L161.6,120.9 L84.6,150.8Z" fill="#E5E5F5"/>
<path d="M79.1,104.3 C79.17,103.08 79.3,99 79.5,97 C79.7,95 79.85,93.58 80.3,92.3 C80.75,91.02 81.38,89.97 82.2,89.3 C83.02,88.63 83.9,88.15 85.2,88.3 C86.5,88.45 87.62,88.68 90,90.2 C92.38,91.72 95.53,95.03 99.5,97.4 C103.47,99.77 108.82,102.1 113.8,104.4 C118.78,106.7 125.53,109.57 129.4,111.2 C133.27,112.83 134.95,113.52 137,114.2 C139.05,114.88 140.17,115.63 141.7,115.3 C143.23,114.97 145.07,113.55 146.2,112.2 C147.33,110.85 148.02,109.28 148.5,107.2 C148.98,105.12 149.32,101.82 149.1,99.7 C148.88,97.58 147.98,95.97 147.2,94.5 C146.42,93.03 145.68,92.07 144.4,90.9 C143.12,89.73 141.08,88.38 139.5,87.5 C137.92,86.62 137.03,86.08 134.9,85.6 C132.77,85.12 129.43,85.12 126.7,84.6 C123.97,84.08 120.78,83.38 118.5,82.5 C116.22,81.62 114.32,80.63 113,79.3 C111.68,77.97 111.33,76.05 110.6,74.5 C109.87,72.95 108.97,71.42 108.6,70 C108.23,68.58 107.95,67.62 108.4,66 C108.85,64.38 110.03,61.88 111.3,60.3 C112.57,58.72 114.22,57.52 116,56.5 C117.78,55.48 119.98,54.75 122,54.2 C124.02,53.65 128.02,52.6 128.1,53.2 C128.18,53.8 124.43,56.28 122.5,57.8 C120.57,59.32 118.53,60.83 116.5,62.3 C114.47,63.77 112.38,65.55 110.3,66.6 C108.22,67.65 106.05,68.4 104,68.6 C101.95,68.8 99,67.93 98,67.8" fill="none" stroke="#45c095" stroke-width="0.72" stroke-linecap="round"/>
<path d="M59.8,54.5 C59.75,51.58 61.28,47.15 63.2,45 C65.12,42.85 68.35,41.83 71.3,41.6 C74.25,41.37 78.4,41.68 80.9,43.6 C83.4,45.52 85.07,50.15 86.3,53.1 C87.53,56.05 88.85,59.02 88.3,61.3 C87.75,63.58 85.55,65.95 83,66.8 C80.45,67.65 76.25,67.12 73,66.4 C69.75,65.68 65.7,64.48 63.5,62.5 C61.3,60.52 59.85,57.42 59.8,54.5Z" fill="none" stroke="#45c095" stroke-width="0.72" stroke-linecap="round"/>
<path d="M87.7,55.9 C87.53,53.23 89.42,50.52 91,49 C92.58,47.48 95.03,46.57 97.2,46.8 C99.37,47.03 102.3,48.43 104,50.4 C105.7,52.37 106.95,55.97 107.4,58.6 C107.85,61.23 108.02,64.55 106.7,66.2 C105.38,67.85 101.95,68.7 99.5,68.5 C97.05,68.3 93.97,67.1 92,65 C90.03,62.9 87.87,58.57 87.7,55.9Z" fill="none" stroke="#45c095" stroke-width="0.72" stroke-linecap="round"/>
<path d="M60.4,63.2 C58,65.2 59.13,71.05 59.6,74 C60.07,76.95 61.47,79.37 63.2,80.9 C64.93,82.43 67.17,82.95 70,83.2 C72.83,83.45 77.25,83.47 80.2,82.4 C83.15,81.33 86.2,79.1 87.7,76.8 C89.2,74.5 89.65,70.8 89.2,68.6 C88.75,66.4 87.53,64.7 85,63.6 C82.47,62.5 78.1,62.07 74,62 C69.9,61.93 62.8,61.2 60.4,63.2Z" fill="none" stroke="#45c095" stroke-width="0.72" stroke-linecap="round"/>
<path d="M61,72 C61.58,73.83 63.42,79.9 64.5,83 C65.58,86.1 65.68,88.88 67.5,90.6 C69.32,92.32 72.95,93.73 75.4,93.3 C77.85,92.87 80.77,89.88 82.2,88 C83.63,86.12 83.7,83 84,82" fill="none" stroke="#45c095" stroke-width="0.72" stroke-linecap="round"/>
<path d="M94.7,36.1 C94.85,37.08 95.42,40.07 95.6,42 C95.78,43.93 95.85,45.87 95.8,47.7 C95.75,49.53 95.67,51.2 95.3,53 C94.93,54.8 93.88,57.58 93.6,58.5" fill="none" stroke="#45c095" stroke-width="0.72" stroke-linecap="round"/>
<path d="M67.5,48 C68,49.67 69.08,54.83 70.5,58 C71.92,61.17 74.42,64.17 76,67 C77.58,69.83 79.17,72.17 80,75 C80.83,77.83 80.83,82.5 81,84" fill="none" stroke="#45c095" stroke-width="0.72" stroke-linecap="round"/>
<path d="M81.5,108.6 C81.43,107.33 81.15,103.27 81.1,101 C81.05,98.73 80.95,96.58 81.2,95 C81.45,93.42 81.93,92.3 82.6,91.5 C83.27,90.7 84.22,90.2 85.2,90.2 C86.18,90.2 87.25,90.7 88.5,91.5 C89.75,92.3 90.42,93.52 92.7,95 C94.98,96.48 98.68,98.7 102.2,100.4 C105.72,102.1 109.72,103.62 113.8,105.2 C117.88,106.78 123.33,108.67 126.7,109.9 C130.07,111.13 132.18,112.03 134,112.6 C135.82,113.17 136.4,113.43 137.6,113.3 C138.8,113.17 140.3,112.47 141.2,111.8 C142.1,111.13 142.53,110.52 143,109.3 C143.47,108.08 143.88,105.98 144,104.5 C144.12,103.02 143.95,101.82 143.7,100.4 C143.45,98.98 143.07,97.37 142.5,96 C141.93,94.63 141.18,93.33 140.3,92.2 C139.42,91.07 138.33,90.1 137.2,89.2 C136.07,88.3 135.7,87.48 133.5,86.8 C131.3,86.12 126.72,85.78 124,85.1 C121.28,84.42 118.97,83.67 117.2,82.7 C115.43,81.73 114.57,80.58 113.4,79.3 C112.23,78.02 110.82,76.8 110.2,75 C109.58,73.2 109.47,70.43 109.7,68.5 C109.93,66.57 110.38,64.88 111.6,63.4 C112.82,61.92 115,60.7 117,59.6 C119,58.5 123.35,56.5 123.6,56.8 C123.85,57.1 120.35,59.97 118.5,61.4 C116.65,62.83 114.58,64.67 112.5,65.4 C110.42,66.13 107.87,65.77 106,65.8 C104.13,65.83 103,65.78 101.3,65.6 C99.6,65.42 98.02,65.1 95.8,64.7 C93.58,64.3 90.63,63.28 88,63.2 C85.37,63.12 83,64.23 80,64.2 C77,64.17 72.63,64.12 70,63 C67.37,61.88 65.17,58.42 64.2,57.5" fill="none" stroke="#c848d4" stroke-width="0.72" stroke-linecap="round"/>
<path d="M89.9,57.2 C89.73,55.23 91.07,52.85 92.5,51.8 C93.93,50.75 96.7,50.33 98.5,50.9 C100.3,51.47 102.18,53.43 103.3,55.2 C104.42,56.97 105.58,59.83 105.2,61.5 C104.82,63.17 102.95,64.85 101,65.2 C99.05,65.55 95.35,64.93 93.5,63.6 C91.65,62.27 90.07,59.17 89.9,57.2Z" fill="none" stroke="#c848d4" stroke-width="0.72" stroke-linecap="round"/>
<path d="M64.2,57.5 C64.37,56.08 63.78,51.08 65.2,49 C66.62,46.92 70.2,45.22 72.7,45 C75.2,44.78 78.27,45.88 80.2,47.7 C82.13,49.52 83.43,53.42 84.3,55.9 C85.17,58.38 85.22,61.48 85.4,62.6" fill="none" stroke="#c848d4" stroke-width="0.72" stroke-linecap="round"/>
<path d="M63.4,65.9 C62.17,67.43 64.43,72.23 65.3,75.4 C66.17,78.57 67.15,82.63 68.6,84.9 C70.05,87.17 72.3,88.88 74,89 C75.7,89.12 77.75,87.42 78.8,85.6 C79.85,83.78 80.42,80.48 80.3,78.1 C80.18,75.72 79.37,73.28 78.1,71.3 C76.83,69.32 75.15,67.1 72.7,66.2 C70.25,65.3 64.63,64.37 63.4,65.9Z" fill="none" stroke="#c848d4" stroke-width="0.72" stroke-linecap="round"/>
<path d="M94.4,40.9 C94.52,41.92 94.93,44.98 95.1,47 C95.27,49.02 95.48,51.17 95.4,53 C95.32,54.83 94.73,57.17 94.6,58" fill="none" stroke="#c848d4" stroke-width="0.72" stroke-linecap="round"/>
<path d="M65.9,78.1 C66.8,78.48 69.03,80.17 71.3,80.4 C73.57,80.63 78.13,79.65 79.5,79.5" fill="none" stroke="#c848d4" stroke-width="0.72" stroke-linecap="round"/>
<path d="M70,50 C70.33,51.33 71,55.33 72,58 C73,60.67 75.33,64.67 76,66" fill="none" stroke="#c848d4" stroke-width="0.72" stroke-linecap="round"/>
<circle cx="79" cy="104.1" r="2.15" fill="#13835f" stroke="#084030" stroke-width="0.5"/>
<circle cx="81.6" cy="108.8" r="2.15" fill="#7a1a9a" stroke="#3a0a4a" stroke-width="0.5"/>
<line x1="113.7" y1="109.8" x2="113.7" y2="9.4" stroke="#6e6e5a" stroke-width="0.8"/>
<line x1="113.7" y1="109.8" x2="40.8" y2="137.3" stroke="#6e6e5a" stroke-width="0.8"/>
<line x1="113.7" y1="109.8" x2="157.9" y2="120.1" stroke="#6e6e5a" stroke-width="0.8"/>
<path d="M113.7,6.4 L112,11 L115.4,11Z" fill="#000"/>
<path d="M37.3,138.6 L42.2,135.2 L40.9,138.7Z" fill="#000"/>
<path d="M161.4,120.9 L156.6,118.2 L157.2,121.5Z" fill="#000"/>
<text x="28.4" y="142.8" font-family='"Liberation Serif", serif' font-size="10.6" font-style="italic">x</text>
<text x="166" y="125" font-family='"Liberation Serif", serif' font-size="10.6" font-style="italic">y</text>
<text x="110.6" y="5.3" font-family='"Liberation Serif", serif' font-size="10.6" font-style="italic">z</text>
<text x="19.8" y="49.8" font-family='"Liberation Serif", serif' font-size="12.3" font-style="italic" textLength="9.0" lengthAdjust="spacingAndGlyphs">R</text>
<text x="29.2" y="45.3" font-family='"Liberation Serif", serif' font-size="8.8" textLength="13.2" lengthAdjust="spacingAndGlyphs">ind</text>
<rect x="45.7" y="40.2" width="2.4" height="14.3" fill="#000"/>
<defs>
<radialGradient id="gg" cx="0.4" cy="0.3" r="0.75" fx="0.4" fy="0.3"><stop offset="0" stop-color="#c8fff4"/><stop offset="0.16" stop-color="#4cd0ac"/><stop offset="0.55" stop-color="#1a9474"/><stop offset="1" stop-color="#0a4e3c"/></radialGradient>
<radialGradient id="pg" cx="0.4" cy="0.3" r="0.75" fx="0.4" fy="0.3"><stop offset="0" stop-color="#ffd8ff"/><stop offset="0.16" stop-color="#c85cf8"/><stop offset="0.55" stop-color="#9422d2"/><stop offset="1" stop-color="#4a0878"/></radialGradient>
<radialGradient id="kg" cx="0.4" cy="0.3" r="0.75" fx="0.4" fy="0.3"><stop offset="0" stop-color="#6a6a6a"/><stop offset="0.2" stop-color="#2a2a2a"/><stop offset="0.5" stop-color="#050505"/><stop offset="1" stop-color="#000"/></radialGradient>
</defs>
<path d="M0,286 C1.87,284.27 7.87,279.6 11.2,275.6 C14.53,271.6 16.85,267.03 20,262 C23.15,256.97 26.77,250.4 30.1,245.4 C33.43,240.4 36.68,235.9 40,232 C43.32,228.1 46.67,225.17 50,222 C53.33,218.83 56.82,215.48 60,213 C63.18,210.52 65.77,209.27 69.1,207.1 C72.43,204.93 76.52,202.18 80,200 C83.48,197.82 86.67,195.58 90,194 C93.33,192.42 96.27,191.6 100,190.5 C103.73,189.4 108.9,188.18 112.4,187.4 C115.9,186.62 118.07,186.05 121,185.8 C123.93,185.55 126.83,185.88 130,185.9 C133.17,185.92 137.17,185.78 140,185.9 C142.83,186.02 144.83,186.2 147,186.6 C149.17,187 149.72,187.72 153,188.3 C156.28,188.88 164.42,189.8 166.7,190.1" fill="none" stroke="#199a78" stroke-width="0.9"/>
<path d="M15.9,302 C17.95,299.98 24.52,294.4 28.2,289.9 C31.88,285.4 34.28,280.68 38,275 C41.72,269.32 46.5,261.63 50.5,255.8 C54.5,249.97 58.42,244.13 62,240 C65.58,235.87 68.58,233.42 72,231 C75.42,228.58 78.67,227.83 82.5,225.5 C86.33,223.17 91.25,219.17 95,217 C98.75,214.83 100.52,214.12 105,212.5 C109.48,210.88 116.9,208.55 121.9,207.3 C126.9,206.05 131.15,205.22 135,205 C138.85,204.78 141.67,205.42 145,206 C148.33,206.58 151.55,207.6 155,208.5 C158.45,209.4 163.92,210.92 165.7,211.4" fill="none" stroke="#9a22d6" stroke-width="0.9"/>
<line x1="17" y1="267" x2="21.15" y2="262.94" stroke="#199a78" stroke-width="2.5"/>
<path d="M25.8,258.4 L18,260.43 L21.65,262.45Z" fill="#62d2b2" stroke="#62d2b2" stroke-width="0.3"/>
<path d="M25.8,258.4 L23.59,266.15 L21.65,262.45Z" fill="#199a78" stroke="#199a78" stroke-width="0.3"/>
<line x1="36.1" y1="235.6" x2="39.97" y2="230.7" stroke="#199a78" stroke-width="2.5"/>
<path d="M44,225.6 L36.52,228.61 L40.4,230.15Z" fill="#62d2b2" stroke="#62d2b2" stroke-width="0.3"/>
<path d="M44,225.6 L42.8,233.57 L40.4,230.15Z" fill="#199a78" stroke="#199a78" stroke-width="0.3"/>
<line x1="77.9" y1="200.9" x2="85.72" y2="195.9" stroke="#199a78" stroke-width="2.5"/>
<path d="M91.2,192.4 L83.15,192.8 L86.31,195.52Z" fill="#62d2b2" stroke="#62d2b2" stroke-width="0.3"/>
<path d="M91.2,192.4 L87.46,199.54 L86.31,195.52Z" fill="#199a78" stroke="#199a78" stroke-width="0.3"/>
<line x1="121.4" y1="184.4" x2="130.2" y2="180.71" stroke="#199a78" stroke-width="2.5"/>
<path d="M136.2,178.2 L128.2,177.22 L130.85,180.44Z" fill="#62d2b2" stroke="#62d2b2" stroke-width="0.3"/>
<path d="M136.2,178.2 L131.29,184.59 L130.85,180.44Z" fill="#199a78" stroke="#199a78" stroke-width="0.3"/>
<line x1="176.3" y1="192.4" x2="186.18" y2="194.78" stroke="#199a78" stroke-width="2.5"/>
<path d="M192.5,196.3 L186.63,190.77 L186.86,194.94Z" fill="#62d2b2" stroke="#62d2b2" stroke-width="0.3"/>
<path d="M192.5,196.3 L184.76,198.55 L186.86,194.94Z" fill="#199a78" stroke="#199a78" stroke-width="0.3"/>
<line x1="34.5" y1="281" x2="36.77" y2="278.56" stroke="#9a22d6" stroke-width="2.5"/>
<path d="M41.2,273.8 L33.5,276.2 L37.25,278.05Z" fill="#cc74f4" stroke="#cc74f4" stroke-width="0.3"/>
<path d="M41.2,273.8 L39.36,281.65 L37.25,278.05Z" fill="#9a22d6" stroke="#9a22d6" stroke-width="0.3"/>
<line x1="55.8" y1="246.1" x2="59.85" y2="242.14" stroke="#9a22d6" stroke-width="2.5"/>
<path d="M64.5,237.6 L56.7,239.63 L60.35,241.65Z" fill="#cc74f4" stroke="#cc74f4" stroke-width="0.3"/>
<path d="M64.5,237.6 L62.29,245.35 L60.35,241.65Z" fill="#9a22d6" stroke="#9a22d6" stroke-width="0.3"/>
<line x1="92.3" y1="220.5" x2="95.74" y2="218.01" stroke="#9a22d6" stroke-width="2.5"/>
<path d="M101,214.2 L92.98,215.07 L96.3,217.6Z" fill="#cc74f4" stroke="#cc74f4" stroke-width="0.3"/>
<path d="M101,214.2 L97.68,221.55 L96.3,217.6Z" fill="#9a22d6" stroke="#9a22d6" stroke-width="0.3"/>
<line x1="132" y1="204.7" x2="137.34" y2="204.11" stroke="#9a22d6" stroke-width="2.5"/>
<path d="M143.8,203.4 L136.4,200.19 L138.03,204.04Z" fill="#cc74f4" stroke="#cc74f4" stroke-width="0.3"/>
<path d="M143.8,203.4 L137.28,208.14 L138.03,204.04Z" fill="#9a22d6" stroke="#9a22d6" stroke-width="0.3"/>
<line x1="175.5" y1="213.5" x2="180.26" y2="216.8" stroke="#9a22d6" stroke-width="2.5"/>
<path d="M185.6,220.5 L182.13,213.22 L180.83,217.2Z" fill="#cc74f4" stroke="#cc74f4" stroke-width="0.3"/>
<path d="M185.6,220.5 L177.57,219.8 L180.83,217.2Z" fill="#9a22d6" stroke="#9a22d6" stroke-width="0.3"/>
<clipPath id="sc1"><path d="M2.49,269.73 L2.56,269.78 L2.79,269.93 L3.15,270.17 L3.66,270.51 L4.29,270.94 L5.04,271.45 L5.9,272.02 L6.85,272.66 L7.87,273.35 L8.95,274.08 L10.06,274.83 L11.2,275.6 L12.34,276.37 L13.45,277.12 L14.53,277.85 L15.55,278.54 L16.5,279.18 L17.36,279.75 L18.11,280.26 L18.74,280.69 L19.25,281.03 L19.61,281.27 L19.84,281.42 L19.91,281.47 L10.12,295.99 L-7.3,284.24Z"/></clipPath>
<circle cx="11.2" cy="275.6" r="10.3" fill="url(#gg)"/>
<circle cx="11.2" cy="275.6" r="10.3" fill="url(#kg)" clip-path="url(#sc1)"/>
<clipPath id="sc2"><path d="M19.2,284.28 L19.28,284.33 L19.51,284.47 L19.89,284.71 L20.41,285.03 L21.06,285.44 L21.84,285.93 L22.72,286.48 L23.7,287.09 L24.76,287.75 L25.87,288.45 L27.03,289.17 L28.2,289.9 L29.37,290.63 L30.53,291.35 L31.64,292.05 L32.7,292.71 L33.68,293.32 L34.56,293.87 L35.34,294.36 L35.99,294.77 L36.51,295.09 L36.89,295.33 L37.12,295.47 L37.2,295.52 L27.83,310.51 L9.83,299.27Z"/></clipPath>
<circle cx="28.2" cy="289.9" r="10.4" fill="url(#pg)"/>
<circle cx="28.2" cy="289.9" r="10.4" fill="url(#kg)" clip-path="url(#sc2)"/>
<clipPath id="sc3"><path d="M20.55,240.32 L20.64,240.37 L20.88,240.5 L21.28,240.71 L21.83,241 L22.53,241.37 L23.35,241.81 L24.29,242.31 L25.33,242.86 L26.45,243.46 L27.63,244.09 L28.85,244.74 L30.1,245.4 L31.35,246.06 L32.57,246.71 L33.75,247.34 L34.87,247.94 L35.91,248.49 L36.85,248.99 L37.67,249.43 L38.37,249.8 L38.92,250.09 L39.32,250.3 L39.56,250.43 L39.65,250.48 L31.19,266.39 L12.09,256.23Z"/></clipPath>
<circle cx="30.1" cy="245.4" r="10.6" fill="url(#gg)"/>
<circle cx="30.1" cy="245.4" r="10.6" fill="url(#kg)" clip-path="url(#sc3)"/>
<clipPath id="sc4"><path d="M40.55,251.58 L40.63,251.61 L40.89,251.72 L41.31,251.9 L41.88,252.14 L42.6,252.45 L43.46,252.81 L44.44,253.23 L45.52,253.69 L46.69,254.18 L47.92,254.71 L49.2,255.25 L50.5,255.8 L51.8,256.35 L53.08,256.89 L54.31,257.42 L55.48,257.91 L56.56,258.37 L57.54,258.79 L58.4,259.15 L59.12,259.46 L59.69,259.7 L60.11,259.88 L60.37,259.99 L60.45,260.02 L53.41,276.61 L33.51,268.16Z"/></clipPath>
<circle cx="50.5" cy="255.8" r="10.6" fill="url(#pg)"/>
<circle cx="50.5" cy="255.8" r="10.6" fill="url(#kg)" clip-path="url(#sc4)"/>
<clipPath id="sc5"><path d="M63.48,198.1 L63.53,198.18 L63.67,198.41 L63.91,198.79 L64.23,199.31 L64.64,199.96 L65.13,200.74 L65.68,201.62 L66.29,202.6 L66.95,203.66 L67.65,204.77 L68.37,205.93 L69.1,207.1 L69.83,208.27 L70.55,209.43 L71.25,210.54 L71.91,211.6 L72.52,212.58 L73.07,213.46 L73.56,214.24 L73.97,214.89 L74.29,215.41 L74.53,215.79 L74.67,216.02 L74.72,216.1 L59.73,225.47 L48.49,207.47Z"/></clipPath>
<circle cx="69.1" cy="207.1" r="10.4" fill="url(#gg)"/>
<circle cx="69.1" cy="207.1" r="10.4" fill="url(#kg)" clip-path="url(#sc5)"/>
<clipPath id="sc6"><path d="M78.32,215.64 L78.35,215.73 L78.46,215.98 L78.63,216.39 L78.88,216.96 L79.18,217.68 L79.54,218.53 L79.95,219.5 L80.41,220.57 L80.9,221.73 L81.42,222.95 L81.95,224.21 L82.5,225.5 L83.05,226.79 L83.58,228.05 L84.1,229.27 L84.59,230.43 L85.05,231.5 L85.46,232.47 L85.82,233.32 L86.12,234.04 L86.37,234.61 L86.54,235.02 L86.65,235.27 L86.68,235.36 L70.25,242.33 L61.88,222.62Z"/></clipPath>
<circle cx="82.5" cy="225.5" r="10.5" fill="url(#pg)"/>
<circle cx="82.5" cy="225.5" r="10.5" fill="url(#kg)" clip-path="url(#sc6)"/>
<clipPath id="sc7"><path d="M109.99,176.96 L110.01,177.05 L110.07,177.32 L110.17,177.76 L110.31,178.36 L110.49,179.12 L110.7,180.02 L110.93,181.05 L111.2,182.18 L111.48,183.41 L111.78,184.7 L112.09,186.04 L112.4,187.4 L112.71,188.76 L113.02,190.1 L113.32,191.39 L113.6,192.62 L113.87,193.75 L114.1,194.78 L114.31,195.68 L114.49,196.44 L114.63,197.04 L114.73,197.48 L114.79,197.75 L114.81,197.84 L97.42,201.85 L92.6,180.98Z"/></clipPath>
<circle cx="112.4" cy="187.4" r="10.5" fill="url(#gg)"/>
<circle cx="112.4" cy="187.4" r="10.5" fill="url(#kg)" clip-path="url(#sc7)"/>
<clipPath id="sc8"><path d="M121.53,196.7 L121.53,196.79 L121.54,197.06 L121.56,197.51 L121.58,198.12 L121.61,198.89 L121.64,199.8 L121.67,200.85 L121.71,202 L121.76,203.24 L121.8,204.56 L121.85,205.92 L121.9,207.3 L121.95,208.68 L122,210.04 L122.04,211.36 L122.09,212.6 L122.13,213.75 L122.16,214.8 L122.19,215.71 L122.22,216.48 L122.24,217.09 L122.26,217.54 L122.27,217.81 L122.27,217.9 L104.6,218.52 L103.86,197.32Z"/></clipPath>
<circle cx="121.9" cy="207.3" r="10.4" fill="url(#pg)"/>
<circle cx="121.9" cy="207.3" r="10.4" fill="url(#kg)" clip-path="url(#sc8)"/>
<clipPath id="sc9"><path d="M169.07,179.81 L169.05,179.9 L168.99,180.16 L168.89,180.6 L168.76,181.19 L168.58,181.94 L168.38,182.83 L168.15,183.84 L167.89,184.96 L167.61,186.16 L167.31,187.44 L167.01,188.76 L166.7,190.1 L166.39,191.44 L166.09,192.76 L165.79,194.04 L165.51,195.24 L165.25,196.36 L165.02,197.37 L164.82,198.26 L164.64,199.01 L164.51,199.6 L164.41,200.04 L164.35,200.3 L164.33,200.39 L147.18,196.43 L151.93,175.86Z"/></clipPath>
<circle cx="166.7" cy="190.1" r="10.35" fill="url(#gg)"/>
<circle cx="166.7" cy="190.1" r="10.35" fill="url(#kg)" clip-path="url(#sc9)"/>
<clipPath id="sc10"><path d="M168.8,201.26 L168.77,201.34 L168.7,201.6 L168.57,202.03 L168.39,202.61 L168.16,203.35 L167.89,204.23 L167.59,205.22 L167.25,206.33 L166.89,207.52 L166.5,208.77 L166.1,210.08 L165.7,211.4 L165.3,212.72 L164.9,214.03 L164.51,215.28 L164.15,216.47 L163.81,217.58 L163.51,218.57 L163.24,219.45 L163.01,220.19 L162.83,220.77 L162.7,221.2 L162.63,221.46 L162.6,221.54 L145.69,216.38 L151.89,196.09Z"/></clipPath>
<circle cx="165.7" cy="211.4" r="10.4" fill="url(#pg)"/>
<circle cx="165.7" cy="211.4" r="10.4" fill="url(#kg)" clip-path="url(#sc10)"/>
<line x1="128.5" y1="288" x2="128.5" y2="273.1" stroke="#199a78" stroke-width="2.8"/>
<path d="M128.5,266.8 L124.8,273.6 L128.5,272.4Z" fill="#62d2b2" stroke="#62d2b2" stroke-width="0.3"/>
<path d="M128.5,266.8 L132.2,273.6 L128.5,272.4Z" fill="#199a78" stroke="#199a78" stroke-width="0.3"/>
<line x1="155.1" y1="283" x2="155.1" y2="273.1" stroke="#9a22d6" stroke-width="2.8"/>
<path d="M155.1,266.8 L151.6,273.6 L155.1,272.4Z" fill="#cc74f4" stroke="#cc74f4" stroke-width="0.3"/>
<path d="M155.1,266.8 L158.6,273.6 L155.1,272.4Z" fill="#9a22d6" stroke="#9a22d6" stroke-width="0.3"/>
<clipPath id="sc11"><path d="M116.87,296.8 L116.97,296.8 L117.27,296.8 L117.76,296.8 L118.43,296.8 L119.27,296.8 L120.28,296.8 L121.42,296.8 L122.69,296.8 L124.05,296.8 L125.49,296.8 L126.98,296.8 L128.5,296.8 L130.02,296.8 L131.51,296.8 L132.95,296.8 L134.31,296.8 L135.58,296.8 L136.72,296.8 L137.73,296.8 L138.57,296.8 L139.24,296.8 L139.73,296.8 L140.03,296.8 L140.13,296.8 L140.13,316.18 L116.87,316.18Z"/></clipPath>
<circle cx="128.5" cy="296.8" r="11.4" fill="url(#gg)"/>
<circle cx="128.5" cy="296.8" r="11.4" fill="url(#kg)" clip-path="url(#sc11)"/>
<clipPath id="sc12"><path d="M143.47,292.6 L143.57,292.6 L143.87,292.6 L144.36,292.6 L145.03,292.6 L145.87,292.6 L146.88,292.6 L148.02,292.6 L149.29,292.6 L150.65,292.6 L152.09,292.6 L153.58,292.6 L155.1,292.6 L156.62,292.6 L158.11,292.6 L159.55,292.6 L160.91,292.6 L162.18,292.6 L163.32,292.6 L164.33,292.6 L165.17,292.6 L165.84,292.6 L166.33,292.6 L166.63,292.6 L166.73,292.6 L166.73,311.98 L143.47,311.98Z"/></clipPath>
<circle cx="155.1" cy="292.6" r="11.4" fill="url(#pg)"/>
<circle cx="155.1" cy="292.6" r="11.4" fill="url(#kg)" clip-path="url(#sc12)"/>
<text x="97" y="280.2" font-family='"Liberation Serif", serif' font-size="13" font-style="italic" textLength="6.6" lengthAdjust="spacingAndGlyphs">v</text>
<text x="104" y="281" font-family='"Liberation Serif", serif' font-size="9.4" textLength="16.6" lengthAdjust="spacingAndGlyphs">max</text>
<path d="M142.3,264.3 Q155.5,256.6 168.6,262.6 L167.4,266.2 Q155.5,261.0 143.4,266.6Z" fill="#e8230e"/>
<path d="M178.2,272.4 L163.6,268.2 L167.2,266.0 L169.2,261.0Z" fill="#e8230e"/>
<text x="151.3" y="258" font-family='"Liberation Serif", serif' font-size="13.4" font-style="italic" textLength="8.8" lengthAdjust="spacingAndGlyphs" fill="#e8230e">T</text>
<text x="159.3" y="260.4" font-family='"Liberation Serif", serif' font-size="8.6" fill="#e8230e">t</text>
<text x="160.2" y="253.6" font-family='"Liberation Serif", serif' font-size="9.2" textLength="6.2" lengthAdjust="spacingAndGlyphs" fill="#e8230e">N</text>
</svg>
</body></html>
